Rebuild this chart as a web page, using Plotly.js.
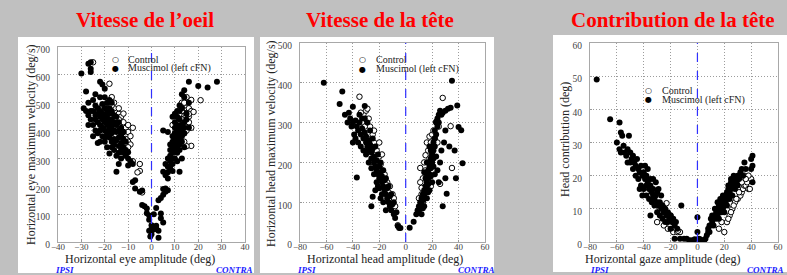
<!DOCTYPE html>
<html>
<head>
<meta charset="utf-8">
<script src="https://cdn.plot.ly/plotly-3.0.1.min.js"></script>
<style>html,body{margin:0;padding:0;background:#c0c0c0;}#chart{width:787px;height:275px;}</style>
</head>
<body>
<div id="chart"></div>
<script>
// ---------- DATA ----------
const panelTitles = ["Vitesse de l’oeil", "Vitesse de la tête", "Contribution de la tête"];
const xTitles = ["Horizontal eye amplitude (deg)", "Horizontal head amplitude (deg)", "Horizontal gaze amplitude (deg)"];
const yTitles = ["Horizontal eye maximum velocity (deg/s)", "Horizontal head maximum velocity (deg/s)", "Head contribution (deg)"];
const seriesNames = ["Control", "Muscimol (left cFN)"];
const sideLabels = ["IPSI", "CONTRA"];

// Panel 1: eye velocity  [amplitude deg, velocity deg/s]
const eyeControl = [
 [-25,645],[-18,568],[-17,520],[-19,480],[-16,500],[-15,470],[-14,460],[-13,450],[-16,480],[-12,430],[-11,410],[-10,395],[-12,395],[-14,420],[-13,380],[-11,370],[-10,360],[-9,350],[-9,380],[-8,410],[-10,420],[-12,461],[-14,440],[-15,430],[-20,465],[-19,455],[-17,450],[-16,440],[-18,420],[-13,400],[-11,345],[-10,340],[-8,290],[-5,280],[-5,255],[-6,250],[-4,178],[-20,420],[-18,390],[-15,400],[-12,360],[-21,490],[-17,490],[-14,480],
 [10,390],[11,400],[12,420],[13,440],[13,460],[14,470],[14,480],[15,490],[15,500],[16,505],[17,510],[12,460],[13,500],[14,420],[15,440],[16,450],[16,430],[15,400],[14,390],[17,410],[16,480],[12,400],[11,430],[13,420],[15,460],[17,345],[17,470],[11,380],[10,360],[14,500],[12,380],[15,520],[16,460],[13,470],[9,420],[18,467],[21,509],[15,344],[12,355],[14,360]
];
const eyeMuscimol = [
 [-30,605],[-27,640],[-26,645],[-26,622],[-26,610],[-28,540],[-29,480],[-22,575],[-21,565],[-20,550],[-22,520],[-25,510],[-24,530],[-27,500],
 [-25,470],[-24,455],[-24,440],[-23,480],[-23,460],[-23,430],[-22,470],[-22,450],[-22,420],[-21,495],[-21,460],[-21,440],[-21,410],[-20,480],[-20,455],[-20,430],[-20,400],[-19,500],[-19,470],[-19,445],[-19,420],[-19,390],[-18,480],[-18,460],[-18,430],[-18,405],[-18,375],[-17,470],[-17,440],[-17,415],[-17,390],[-17,360],[-16,455],[-16,430],[-16,400],[-16,370],[-15,450],[-15,420],[-15,395],[-15,365],[-14,430],[-14,400],[-14,375],[-14,345],[-13,410],[-13,385],[-13,355],[-12,395],[-12,370],[-12,340],[-11,360],[-11,330],[-26,440],[-25,420],[-24,400],[-23,390],[-25,380],[-23,355],[-20,360],[-19,340],[-18,318],[-16,330],[-15,310],[-14,280],[-15,252],[-13,300],[-10,300],[-9,290],[-10,275],[-8,280],[-8,215],[-7,222],[-7,192],[-5,180],[-4,185],[-4,133],[-3,128],[-2,120],[-2,103],[-1,95],[-1,80],[0,60],[0,48],[-1,40],[0,28],[-0.5,20],[-20,520],[-18,510],[-17,500],[-28,470],[-27,455],[-26,470],[-24,490],[-22,400],[-21,380],[-20,375],[-12,320],[-11,310],[-10,322],[-14,320],[-16,350],[-13,330],[-27,420],[-22,360],[-17,340],
 [1,45],[2,58],[2,50],[3,40],[3,15],[2,122],[1,100],[4,102],[4,85],[5,70],[4,158],[5,170],[6,180],[6,192],[5,190],[7,186],[6,240],[7,250],[7,270],[8,262],[8,290],[8,310],[9,280],[9,300],[9,320],[9,340],[10,300],[10,330],[10,350],[10,370],[11,320],[11,340],[11,360],[11,380],[11,400],[12,330],[12,350],[12,370],[12,390],[12,410],[13,360],[13,380],[13,400],[13,420],[14,390],[14,410],[14,430],[15,440],[10,390],[9,360],[8,350],[8,330],[10,410],[11,420],[12,440],[9,450],[10,460],[11,450],[12,470],[13,480],[14,520],[13,530],[14,545],[16,575],[20,560],[24,555],[28,575],[16,410],[12,252],[7,300],[6,280],[7,228],[5,252],[8,270],[9,255],[11,290],[13,300],[14,340],[15,460],[16,500],[3,150],[5,400],[7,395],[9,380],[10,430],[11,470],[12,490]
];

// Panel 2: head velocity  [amplitude deg, velocity deg/s]
const headControl = [
 [-35,365],[-32,320],[-30,330],[-28,310],[-33,300],[-27,290],[-25,270],[-29,260],[-24,250],[-22,230],[-20,215],[-26,230],[-23,200],[-19,195],[-18,180],[-16,170],[-21,185],[-14,150],[-12,140],[-17,155],[-10,120],[-8,90],[-6,42],[-15,145],[-13,125],[-31,290],[-24,280],[-20,250],[-18,220],[-11,105],[-9,110],[-27,200],[-34,325],[-29,335],
 [28,362],[34,291],[35,186],[18,265],[23,302],[15,218],[11,186],[12,136],[26,146],[20,270],[17,230],[16,250],[21,280],[14,200],[13,160],[19,250],[22,260],[15,180],[17,200],[24,250],[12,120],[11,150],[13,100],[10,110],[20,220],[19,140],[16,145],[18,210],[25,290]
];
const headMuscimol = [
 [-62,400],[-48,378],[-50,347],[-40,340],[-31,342],[-46,320],[-43,325],[-42,310],[-40,300],[-41,290],[-38,305],[-37,290],[-36,280],[-35,300],[-34,270],[-33,285],[-32,260],[-31,275],[-30,250],[-30,265],[-29,240],[-28,255],[-28,230],[-27,245],[-26,225],[-26,210],[-25,235],[-24,200],[-24,215],[-23,190],[-22,205],[-22,180],[-21,170],[-20,190],[-20,160],[-19,175],[-18,150],[-18,165],[-17,140],[-16,155],[-16,130],[-15,120],[-14,135],[-14,110],[-13,100],[-12,115],[-12,90],[-11,80],[-10,95],[-9,70],[-8,60],[-7,75],[-6,40],[-5,35],[-4,35],[-40,250],[-37,162],[-25,114],[-26,90],[-38,260],[-36,250],[-34,240],[-32,230],[-30,220],[-28,200],[-26,185],[-24,170],[-22,150],[-20,135],[-18,120],[-33,310],[-29,300],[-27,280],[-25,260],[-23,240],[-21,220],[-19,200],[-17,180],[-15,160],[-13,140],[-11,120],[-9,100],[-44,300],[-39,270],[-35,320],[-31,310],[-21,140],[-19,110],[-15,80],[-17,100],[-23,130],
 [3,36],[6,51],[8,70],[9,80],[10,90],[10,75],[11,100],[11,85],[12,110],[12,95],[13,120],[13,105],[14,130],[14,115],[15,140],[15,125],[15,160],[16,150],[16,170],[16,135],[17,180],[17,160],[17,145],[18,190],[18,170],[18,200],[19,210],[19,185],[19,230],[20,220],[20,200],[20,240],[21,250],[21,230],[21,210],[22,260],[22,240],[22,280],[23,270],[23,300],[24,290],[24,310],[25,320],[25,300],[26,330],[27,320],[28,325],[30,330],[32,335],[35,405],[39,343],[34,337],[40,289],[42,281],[43,198],[31,121],[28,90],[27,230],[29,250],[26,200],[24,180],[22,170],[20,150],[18,130],[16,110],[14,90],[12,70],[25,150],[30,160],[33,240],[30,280],[37,230],[38,160],[23,215],[21,190],[19,165],[17,125],[13,85],[18,240],[16,200],[14,175]
];

// Panel 3: head contribution  [gaze amplitude deg, head contribution deg]
const contribControl = [
 [-30,6],[-25,5],[-22,4],[-20,5],[-18,3],[-16,4],[-15,3],[-13,3],[-24,7],[-27,8],[-28,10],[-26,9],[-33,12],[-35,14],[-20,8],[-18,6],[-38,15],[-23,11.7],[-14.5,3.4],
 [20,3],[22,6],[24,8],[26,10],[28,12],[30,13],[32,14],[33,15],[34,16],[35,17],[36,17],[37,18],[38,16],[39,16],[40,19],[35,20],[33,18],[31,15],[29,13],[27,11],[25,9],[23,7],[38,20],[36,19],[16,4],[18,6]
];
const contribMuscimol = [
 [-75,49],[-65,37],[-58,36],[-57,33],[-56,32],[-51,32],[-60,30],[-58,28],[-57,27],[-55,29],[-54,27],[-53,26],[-52,28],[-50,27],[-49,25],[-48,26],[-47,24],[-46,23],[-45,25],[-44,22],[-43,21],[-42,23],[-41,20],[-40,21],[-39,19],[-38,20],[-38,17],[-37,18],[-36,16],[-35,17],[-35,19],[-34,15],[-33,14],[-33,16],[-32,13],[-31,14],[-30,12],[-30,15],[-29,11],[-28,12],[-27,10],[-26,11],[-25,9],[-24,10],[-23,8],[-22,9],[-21,7],[-20,8],[-19,6],[-18,7],[-17,5],[-16,6],[-15,4],[-44,19],[-42,17],[-40,16],[-38,14],[-36,13],[-34,12],[-32,11],[-30,9],[-28,8],[-26,7],[-24,6],[-48,22],[-46,20],[-50,24],[-52,24],[-39,23],[-37,22],[-33,19],[-31,18],[-29,16],[-27,14],[-41,14],[-35,8],[-43,16],[-12,11],[-17,1],[-13,1],[-10,1],[-8,1],[-6,0.5],[-4,0.5],[-2,0.8],[0,7.5],[0,3],[1,1],[2,0.8],[3,0.5],[5,0.5],[-20,4],[-22,6],
 [6,1],[7,2],[8,3],[8,4],[9,3],[10,5],[11,6],[12,5],[12,7],[13,8],[14,7],[14,9],[15,8],[15,10],[16,9],[16,11],[17,10],[17,12],[18,11],[18,13],[19,12],[19,10],[20,13],[20,11],[21,14],[21,12],[22,15],[22,13],[23,14],[23,16],[24,15],[24,17],[25,16],[25,18],[26,17],[27,18],[28,19],[29,18],[30,20],[31,19],[32,21],[33,22],[34,20],[35,24],[36,22],[40,25],[41,26],[41,23],[40,22],[41,18],[13,10],[16,7],[18,9],[20,9],[22,11],[24,13],[26,14],[28,16],[30,17],[19,14],[17,13],[15,12],[11,8],[9,5],[10,7],[27,20],[25,19],[23,17]
];

const xRanges = [[-40,40],[-80,60],[-80,60]];
const yRanges = [[0,700],[0,500],[0,60]];
const xSteps = [10,20,20];
const ySteps = [100,100,10];

// ---------- LAYOUT GEOMETRY ----------
const W = 787, H = 275;
const px = v => v / W, py = v => 1 - v / H;
const plots = [ // plot area pixel boxes
  {l:58, r:245, t:47, b:242},
  {l:300, r:485, t:43, b:242},
  {l:590, r:778, t:43, b:242}
];
const boxes = [
  {l:18, r:254, t:37, b:273},
  {l:260, r:494, t:37, b:273},
  {l:553, r:787, t:35, b:272}
];
const titleX = [145, 380, 673];
const xTitlePos = [140, 385, 663];
const yTitlePos = [{x:31, y:145},{x:271, y:144},{x:565, y:140}];
const legendPos = [{s:116, t:127, y:59},{s:362, t:375, y:60},{s:648, t:661, y:90}];
const ipsiX = [64, 306, 599], contraX = [235, 476, 765];

const serif = "Liberation Serif, DejaVu Serif, serif";
const datasets = [[eyeControl, eyeMuscimol],[headControl, headMuscimol],[contribControl, contribMuscimol]];

const traces = [];
const layout = {
  width: W, height: H,
  margin: {l:0, r:0, t:0, b:0},
  paper_bgcolor: '#c0c0c0',
  plot_bgcolor: '#ffffff',
  showlegend: false,
  font: {family: serif},
  shapes: [], annotations: []
};

datasets.forEach((ds, i) => {
  const sfx = i === 0 ? '' : String(i + 1);
  const xa = 'x' + sfx, ya = 'y' + sfx;
  traces.push({
    type: 'scatter', mode: 'markers', name: seriesNames[0], xaxis: xa, yaxis: ya,
    x: ds[0].map(p => p[0]), y: ds[0].map(p => p[1]),
    marker: {symbol: 'circle', size: 5.5, color: '#ffffff', line: {color: '#000', width: 1}},
    hoverinfo: 'x+y'
  });
  traces.push({
    type: 'scatter', mode: 'markers', name: seriesNames[1], xaxis: xa, yaxis: ya,
    x: ds[1].map(p => p[0]), y: ds[1].map(p => p[1]),
    marker: {symbol: 'circle', size: 6, color: '#000000', line: {width: 0}},
    hoverinfo: 'x+y'
  });
  const p = plots[i];
  const axCommon = {
    showgrid: true, gridcolor: '#9c9c9c', griddash: '1px,2px', gridwidth: 1,
    zeroline: false, showline: true, mirror: true, linecolor: '#a8a8a8', linewidth: 1,
    ticks: 'inside', ticklen: 2, tickcolor: '#999',
    tickfont: {family: serif, size: 9, color: '#444'}, fixedrange: true
  };
  layout['xaxis' + sfx] = Object.assign({}, axCommon, {
    domain: [px(p.l), px(p.r)], range: xRanges[i], dtick: xSteps[i], tick0: 0, anchor: ya,
    ticklabelstandoff: -4
  });
  layout['yaxis' + sfx] = Object.assign({}, axCommon, {
    domain: [py(p.b), py(p.t)], range: yRanges[i], dtick: ySteps[i], tick0: 0, anchor: xa,
    tickfont: {family: serif, size: 9.5, color: '#444'}, ticklabelshift: 3, ticklabelstandoff: 5
  });
  const b = boxes[i];
  layout.shapes.push({type: 'rect', xref: 'paper', yref: 'paper', layer: 'below',
    x0: px(b.l), x1: px(b.r), y0: py(b.b), y1: py(b.t), fillcolor: '#ffffff', line: {width: 0}});
  layout.shapes.push({type: 'line', xref: xa, yref: ya + ' domain', x0: 0, x1: 0, y0: 0, y1: 1,
    line: {color: '#3030ff', width: 1.2, dash: 'dash'}});
  layout.annotations.push({text: '<b>' + panelTitles[i] + '</b>', xref: 'paper', yref: 'paper',
    x: px(titleX[i]), y: py(20), xanchor: 'center', yanchor: 'middle', showarrow: false,
    font: {family: serif, size: 21, color: '#ff0000'}});
  layout.annotations.push({text: xTitles[i], xref: 'paper', yref: 'paper',
    x: px(xTitlePos[i]), y: py(259), xanchor: 'center', yanchor: 'middle', showarrow: false, borderpad: 0,
    font: {family: serif, size: 12, color: '#222'}});
  layout.annotations.push({text: yTitles[i], xref: 'paper', yref: 'paper', textangle: -90,
    x: px(yTitlePos[i].x), y: py(yTitlePos[i].y), xanchor: 'center', yanchor: 'middle', showarrow: false,
    font: {family: serif, size: 12, color: '#222'}});
  const lg = legendPos[i];
  [['○', seriesNames[0], 0], ['●', seriesNames[1], 9.5]].forEach(([sym, name, dy]) => {
    layout.annotations.push({text: sym, xref: 'paper', yref: 'paper', x: px(lg.s), y: py(lg.y + dy),
      xanchor: 'center', yanchor: 'middle', showarrow: false, borderpad: 0,
      font: {family: 'DejaVu Sans', size: 8, color: '#000'}});
    layout.annotations.push({text: name, xref: 'paper', yref: 'paper', x: px(lg.t), y: py(lg.y + dy),
      xanchor: 'left', yanchor: 'middle', showarrow: false, borderpad: 0,
      font: {family: serif, size: 10, color: '#222'}});
  });
  layout.annotations.push({text: '<b><i>' + sideLabels[0] + '</i></b>', xref: 'paper', yref: 'paper',
    x: px(ipsiX[i]), y: py(270), xanchor: 'center', yanchor: 'middle', showarrow: false, borderpad: 0,
    font: {family: serif, size: 9, color: '#1a1aff'}});
  layout.annotations.push({text: '<b><i>' + sideLabels[1] + '</i></b>', xref: 'paper', yref: 'paper',
    x: px(contraX[i]), y: py(270), xanchor: 'center', yanchor: 'middle', showarrow: false, borderpad: 0,
    font: {family: serif, size: 9, color: '#1a1aff'}});
});

Plotly.newPlot('chart', traces, layout, {displayModeBar: false, staticPlot: true});
</script>
</body>
</html>
